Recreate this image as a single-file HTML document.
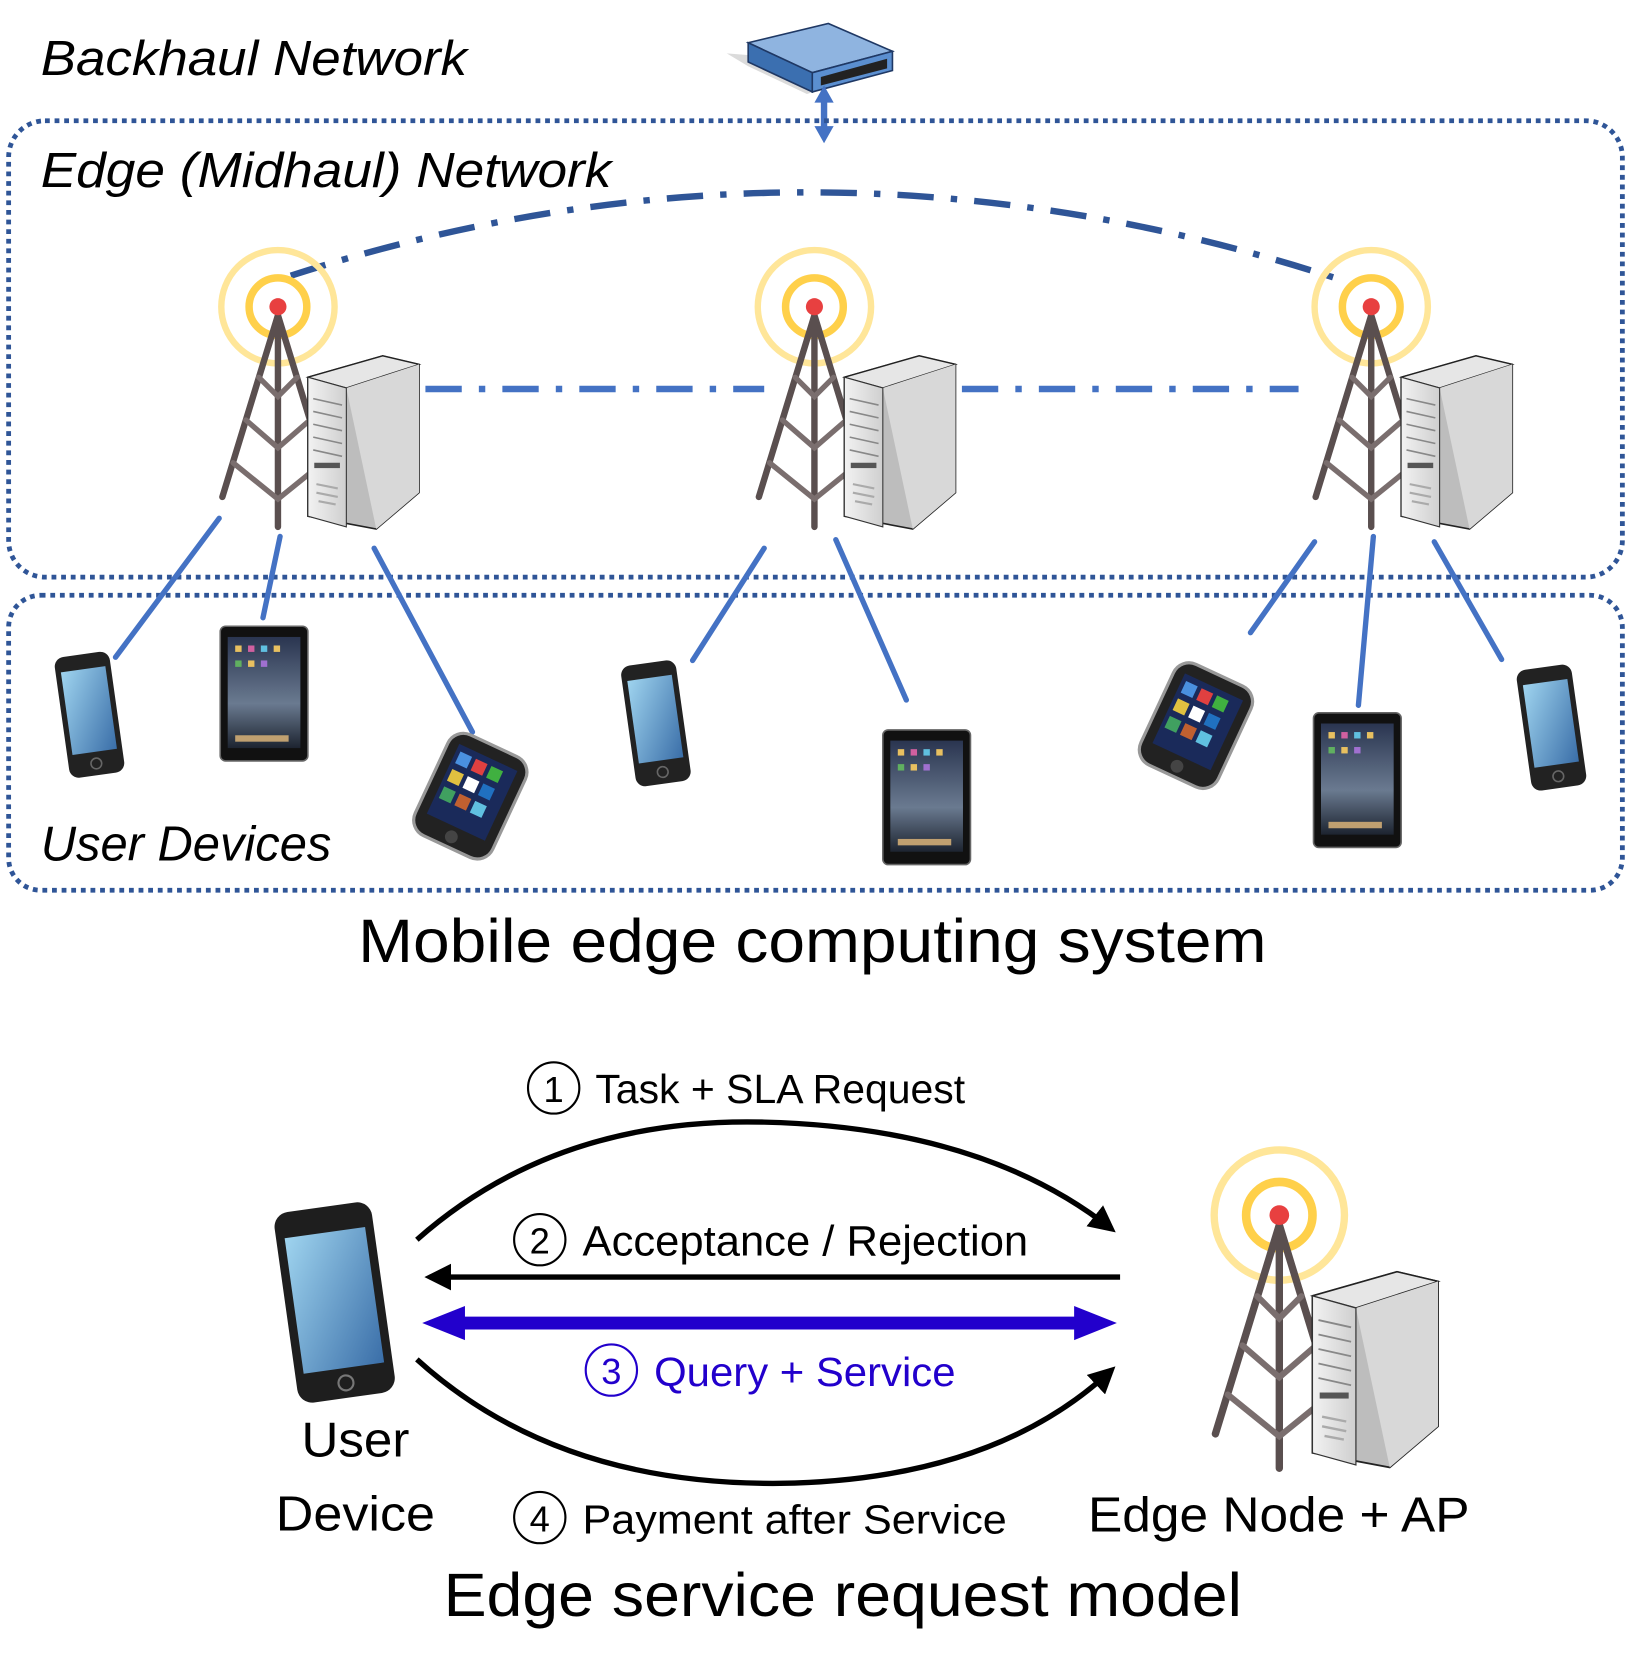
<!DOCTYPE html>
<html><head><meta charset="utf-8"><style>html,body{margin:0;padding:0;background:#fff}svg{display:block}text{font-family:"Liberation Sans","DejaVu Sans",sans-serif}</style></head>
<body>
<svg width="1631" height="1680" viewBox="0 0 1526 1572" xmlns="http://www.w3.org/2000/svg">
<defs>
<linearGradient id="srvF" x1="0" x2="1"><stop offset="0" stop-color="#f2f2f2"/><stop offset="1" stop-color="#cfcfcf"/></linearGradient>
<linearGradient id="scr" x1="0" y1="0" x2="1" y2="1"><stop offset="0" stop-color="#9fd4ef"/><stop offset="1" stop-color="#3a6ea8"/></linearGradient>
<linearGradient id="tab" x1="0" y1="0" x2="0" y2="1"><stop offset="0" stop-color="#2a3550"/><stop offset="0.6" stop-color="#6a7a90"/><stop offset="1" stop-color="#1d2430"/></linearGradient>
<g id="tower">
 <circle cx="0" cy="0" r="53" fill="none" stroke="#ffe699" stroke-width="6"/>
 <circle cx="0" cy="0" r="27" fill="none" stroke="#ffd04a" stroke-width="7"/>
 <g stroke="#5a4f4f" stroke-width="6" stroke-linecap="round" fill="none">
  <path d="M0 8 L0 206 M0 8 L-52 178 M0 8 L52 178"/>
  <path d="M-30 106 L0 132 L30 106 M-42 146 L0 180 L42 146 M-18 66 L0 84 L18 66" stroke="#7a6e6e" stroke-width="5"/>
 </g>
 <circle cx="0" cy="0" r="8" fill="#e84040"/>
</g>
<g id="server">
 <path d="M0 20 L70 0 L104 8 L104 128 L64 162 L0 150 Z" fill="#bdbdbd" stroke="#222" stroke-width="1.5"/>
 <path d="M0 20 L70 0 L104 8 L36 30 Z" fill="#e6e6e6" stroke="#222" stroke-width="1.2"/>
 <path d="M36 30 L104 8 L104 128 L64 162 Z" fill="#d8d8d8"/>
 <path d="M0 20 L36 30 L36 160 L0 150 Z" fill="url(#srvF)" stroke="#333" stroke-width="1"/>
 <g stroke="#888" stroke-width="1.5"><path d="M5 40 L32 46 M5 52 L32 58 M5 64 L32 70 M5 76 L32 82 M5 88 L32 94"/></g>
 <rect x="6" y="100" width="24" height="5" fill="#555"/>
 <path d="M8 120 L28 124 M8 128 L28 132 M10 136 L26 139" stroke="#aaa" stroke-width="2"/>
</g>
<g id="phone">
 <rect x="0" y="0" width="52" height="114" rx="9" fill="#222" transform="rotate(-8)"/>
 <rect x="5" y="14" width="42" height="78" fill="url(#scr)" transform="rotate(-8)"/>
 <circle cx="26" cy="103" r="5" fill="none" stroke="#666" stroke-width="1.5" transform="rotate(-8)"/>
</g>
<g id="tablet">
 <rect x="0" y="0" width="82" height="126" rx="5" fill="#111" stroke="#666" stroke-width="1.5"/>
 <rect x="7" y="10" width="68" height="104" fill="url(#tab)"/>
 <g fill="#e8c060"><rect x="14" y="18" width="6" height="6"/><rect x="26" y="18" width="6" height="6" fill="#d060a0"/><rect x="38" y="18" width="6" height="6" fill="#60c0e0"/><rect x="50" y="18" width="6" height="6"/><rect x="14" y="32" width="6" height="6" fill="#60b060"/><rect x="26" y="32" width="6" height="6"/><rect x="38" y="32" width="6" height="6" fill="#a070d0"/><rect x="14" y="102" width="50" height="6" fill="#c0a070"/></g>
</g>
<g id="smart">
 <rect x="-40" y="-52" width="80" height="104" rx="16" fill="#222" stroke="#999" stroke-width="3"/>
 <rect x="-30" y="-40" width="60" height="72" fill="#1a2a5a"/>
 <g><rect x="-26" y="-34" width="12" height="12" fill="#4a90e0"/><rect x="-10" y="-34" width="12" height="12" fill="#e04040"/><rect x="6" y="-34" width="12" height="12" fill="#40b040"/><rect x="-26" y="-16" width="12" height="12" fill="#e0c040"/><rect x="-10" y="-16" width="12" height="12" fill="#ffffff"/><rect x="6" y="-16" width="12" height="12" fill="#2070c0"/><rect x="-26" y="2" width="12" height="12" fill="#40a060"/><rect x="-10" y="2" width="12" height="12" fill="#c06030"/><rect x="6" y="2" width="12" height="12" fill="#60c0e0"/></g>
 <circle cx="0" cy="42" r="6" fill="#444"/>
</g>
<marker id="ah" viewBox="0 0 10 10" refX="8" refY="5" markerWidth="5" markerHeight="5" orient="auto-start-reverse"><path d="M0 0 L10 5 L0 10 Z" fill="#000"/></marker>
</defs>

<text x="38" y="70" font-size="46" font-style="italic" textLength="399" lengthAdjust="spacingAndGlyphs">Backhaul Network</text>
<g>
 <path d="M680 50 L700 62 L755 88 L835 62 Z" fill="#999" opacity="0.35"/>
 <path d="M700 40 L775 22 L835 48 L760 68 Z" fill="#8fb4e0" stroke="#1f3864" stroke-width="1.5"/>
 <path d="M700 40 L760 68 L760 86 L700 58 Z" fill="#3b6fb0" stroke="#1f3864" stroke-width="1.5"/>
 <path d="M760 68 L835 48 L835 66 L760 86 Z" fill="#5b8fd0" stroke="#1f3864" stroke-width="1.5"/>
 <path d="M768 72 L830 55 L830 64 L768 80 Z" fill="#222"/>
</g>
<g fill="#4472c4"><path d="M771 80 L762 96 L768 96 L768 118 L762 118 L771 134 L780 118 L774 118 L774 96 L780 96 Z"/></g>

<rect x="8" y="113" width="1510" height="427" rx="34" fill="none" stroke="#2f5597" stroke-width="4.5" stroke-dasharray="4.5 4.5"/>
<rect x="8" y="557" width="1510" height="276" rx="30" fill="none" stroke="#2f5597" stroke-width="4.5" stroke-dasharray="4.5 4.5"/>
<text x="38" y="175" font-size="46" font-style="italic" textLength="534" lengthAdjust="spacingAndGlyphs">Edge (Midhaul) Network</text>

<path d="M272 258 Q760 100 1255 262" fill="none" stroke="#2f5597" stroke-width="6" stroke-dasharray="34 16 6 16"/>
<path d="M398 364 L715 364 M900 364 L1215 364" stroke="#4472c4" stroke-width="6" stroke-dasharray="34 16 6 16"/>

<use href="#tower" x="260" y="287"/>
<use href="#server" x="288" y="333"/>
<use href="#tower" x="762" y="287"/>
<use href="#server" x="790" y="333"/>
<use href="#tower" x="1283" y="287"/>
<use href="#server" x="1311" y="333"/>

<g stroke="#4472c4" stroke-width="5" stroke-linecap="round">
 <path d="M205 485 L108 615 M262 502 L246 578 M350 513 L442 685 M715 513 L648 618 M782 505 L848 655 M1230 507 L1170 592 M1285 502 L1271 660 M1342 507 L1405 617"/>
</g>

<use href="#phone" x="50" y="616"/>
<use href="#tablet" x="206" y="586"/>
<use href="#smart" transform="translate(440 745) rotate(25)"/>
<use href="#phone" x="580" y="624"/>
<use href="#tablet" x="826" y="683"/>
<use href="#smart" transform="translate(1119 679) rotate(25)"/>
<use href="#tablet" x="1229" y="667"/>
<use href="#phone" x="1418" y="628"/>

<text x="38" y="805" font-size="46" font-style="italic" textLength="272" lengthAdjust="spacingAndGlyphs">User Devices</text>
<text x="335" y="900" font-size="57" textLength="850" lengthAdjust="spacingAndGlyphs">Mobile edge computing system</text>

<circle cx="518" cy="1018" r="24" fill="none" stroke="#000" stroke-width="2"/>
<text x="518" y="1031" font-size="34" text-anchor="middle">1</text>
<text x="557" y="1032" font-size="38" textLength="346" lengthAdjust="spacingAndGlyphs">Task + SLA Request</text>
<path d="M390 1160 Q520 1045 715 1050 Q920 1055 1040 1150" fill="none" stroke="#000" stroke-width="5" marker-end="url(#ah)"/>

<circle cx="505" cy="1160" r="24" fill="none" stroke="#000" stroke-width="2"/>
<text x="505" y="1173" font-size="34" text-anchor="middle">2</text>
<text x="545" y="1175" font-size="40" textLength="417" lengthAdjust="spacingAndGlyphs">Acceptance / Rejection</text>
<path d="M1048 1195 L402 1195" stroke="#000" stroke-width="5" marker-end="url(#ah)"/>

<path d="M395 1238 L435 1222 L435 1232 L1005 1232 L1005 1222 L1045 1238 L1005 1254 L1005 1244 L435 1244 L435 1254 Z" fill="#2200cc"/>
<circle cx="572" cy="1282" r="24" fill="none" stroke="#2200cc" stroke-width="2"/>
<text x="572" y="1295" font-size="34" text-anchor="middle" fill="#2200cc">3</text>
<text x="612" y="1297" font-size="38" fill="#2200cc" textLength="282" lengthAdjust="spacingAndGlyphs">Query + Service</text>

<path d="M390 1272 Q520 1390 730 1388 Q930 1385 1040 1282" fill="none" stroke="#000" stroke-width="5" marker-end="url(#ah)"/>
<circle cx="505" cy="1420" r="24" fill="none" stroke="#000" stroke-width="2"/>
<text x="505" y="1433" font-size="34" text-anchor="middle">4</text>
<text x="545" y="1435" font-size="38" textLength="397" lengthAdjust="spacingAndGlyphs">Payment after Service</text>

<g transform="translate(255 1136) rotate(-8)">
 <rect x="0" y="0" width="92" height="180" rx="14" fill="#1e1e1e"/>
 <rect x="8" y="24" width="76" height="128" fill="url(#scr)"/>
 <circle cx="46" cy="166" r="7" fill="none" stroke="#777" stroke-width="2"/>
</g>
<text x="282" y="1363" font-size="46" textLength="101" lengthAdjust="spacingAndGlyphs">User</text>
<text x="258" y="1432" font-size="46" textLength="149" lengthAdjust="spacingAndGlyphs">Device</text>

<g transform="translate(1197 1137) scale(1.15)"><use href="#tower"/></g>
<use href="#server" transform="translate(1228 1190) scale(1.13)"/>
<text x="1018" y="1433" font-size="46" textLength="357" lengthAdjust="spacingAndGlyphs">Edge Node + AP</text>
<text x="415" y="1512" font-size="57" textLength="747" lengthAdjust="spacingAndGlyphs">Edge service request model</text>
</svg>
</body></html>
